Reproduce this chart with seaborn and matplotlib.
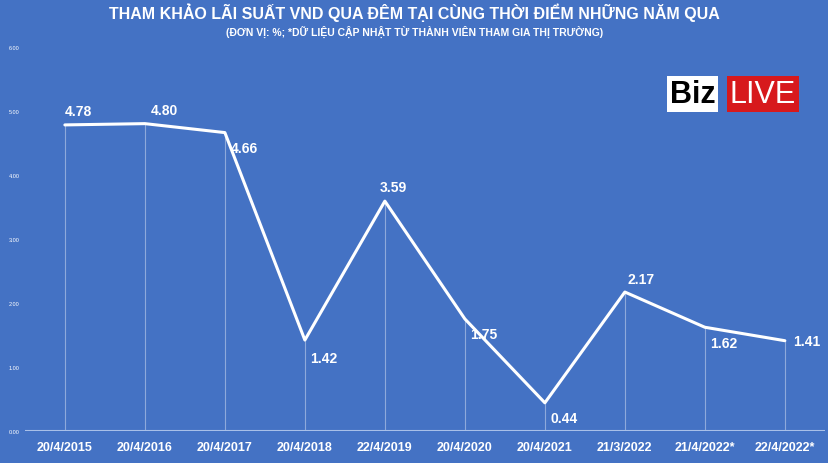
import matplotlib
matplotlib.use("Agg")
import matplotlib.pyplot as plt
import seaborn as sns
import pandas as pd

dates = ["20/4/2015","20/4/2016","20/4/2017","20/4/2018","22/4/2019","20/4/2020","20/4/2021","21/3/2022","21/4/2022*","22/4/2022*"]
rates = [4.78,4.80,4.66,1.42,3.59,1.75,0.44,2.17,1.62,1.41]
yticks = [0,1,2,3,4,5,6]
offs = [(0,5),(4,5),(4,-6),(4,-8),(-4,5),(4,-6),(4,-6),(2,4),(4,-6),(6,0)]

bg = "#4472C4"
sns.set_theme(style="white")
plt.rcParams['font.family'] = ['Liberation Sans', 'DejaVu Sans']
fig = plt.figure(figsize=(8.29,4.64), dpi=100, facecolor=bg)
ax = fig.add_axes([0.03,0.069,0.965,0.828], facecolor=bg)
df = pd.DataFrame({"x": range(len(dates)), "y": rates})
ax.vlines(df.x, 0, df.y, color="#8ea9db", lw=0.8)
sns.lineplot(data=df, x="x", y="y", ax=ax, color="white", lw=2.2)
for i, v in enumerate(rates):
    dx, dy = offs[i]
    ax.annotate(f"{v:.2f}", (i, v), xytext=(dx, dy), textcoords="offset points",
                color="white", fontsize=10, fontweight="bold",
                ha="left", va="bottom" if dy > 0 else ("top" if dy < 0 else "center"))
ax.axhline(0, color="#a9c0e8", lw=1.5)
ax.set_xlim(-0.5, 9.5)
ax.set_ylim(0, 6)
ax.set_xticks(range(len(dates)))
ax.set_xticklabels(dates, color="white", fontsize=9, fontweight="bold")
ax.set_yticks(yticks)
ax.set_yticklabels([f"{t:.2f}" for t in yticks], color="white", fontsize=4)
ax.tick_params(axis="y", pad=4, length=0)
ax.tick_params(axis="x", length=0, pad=7)
ax.set_xlabel(""); ax.set_ylabel("")
for s in ax.spines.values():
    s.set_visible(False)
fig.text(0.5, 0.958, "THAM KHẢO LÃI SUẤT VND QUA ĐÊM TẠI CÙNG THỜI ĐIỂM NHỮNG NĂM QUA",
         ha="center", color="white", fontsize=11.5, fontweight="bold")
fig.text(0.5, 0.922, "(ĐƠN VỊ: %; *DỮ LIỆU CẬP NHẬT TỪ THÀNH VIÊN THAM GIA THỊ TRƯỜNG)",
         ha="center", color="white", fontsize=7.5, fontweight="bold")
fig.text(0.808, 0.795, "Biz", ha="left", va="center", color="black", fontsize=22, fontweight="bold",
         bbox=dict(facecolor="white", edgecolor="none", pad=2))
fig.text(0.88, 0.795, "LIVE", ha="left", va="center", color="white", fontsize=22,
         bbox=dict(facecolor="#d7191c", edgecolor="none", pad=2))
fig.savefig("out.png", dpi=100, facecolor=bg)
